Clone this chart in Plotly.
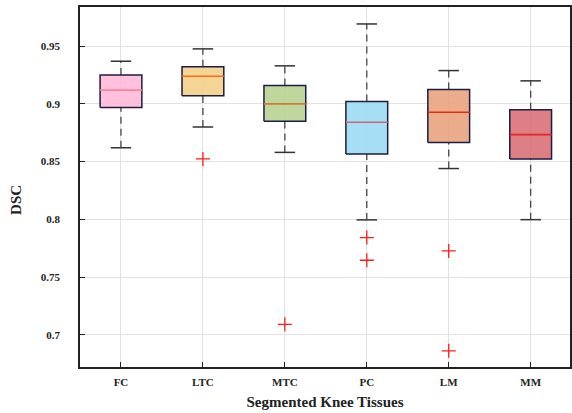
import plotly.graph_objects as go

categories = ["FC", "LTC", "MTC", "PC", "LM", "MM"]
lower_whisker = [0.862, 0.880, 0.858, 0.7995, 0.844, 0.7997]
q1 = [0.897, 0.907, 0.885, 0.8567, 0.8665, 0.8523]
median = [0.912, 0.924, 0.900, 0.8841, 0.8928, 0.8734]
q3 = [0.925, 0.9323, 0.9159, 0.902, 0.9124, 0.895]
upper_whisker = [0.937, 0.9477, 0.933, 0.9693, 0.9289, 0.920]
outlier_cat = ["LTC", "MTC", "PC", "PC", "LM", "LM"]
outlier_val = [0.8523, 0.709, 0.7842, 0.7645, 0.7726, 0.686]

fill_colors = ["rgba(255,182,214,0.85)", "rgba(242,206,128,0.85)", "rgba(178,208,140,0.85)",
               "rgba(150,216,245,0.85)", "rgba(232,160,124,0.88)", "rgba(216,104,112,0.85)"]
median_colors = ["#ff7f9f", "#ff6a1a", "#d07a3a", "#d06878", "#ee2a10", "#e8202a"]
edge = "#1c1c44"

HW = 0.255
CW = 0.125

fig = go.Figure()
for i, c in enumerate(categories):
    # whiskers (dashed)
    for a, b in [(q3[i], upper_whisker[i]), (lower_whisker[i], q1[i])]:
        fig.add_trace(go.Scatter(x=[i, i], y=[a, b], mode="lines",
                                 line=dict(color="rgba(40,40,40,0.85)", width=1.3, dash="7px,5px"),
                                 hoverinfo="skip", showlegend=False))
    # caps
    for v in [upper_whisker[i], lower_whisker[i]]:
        fig.add_trace(go.Scatter(x=[i - CW, i + CW], y=[v, v], mode="lines",
                                 line=dict(color="#333333", width=1.5),
                                 hoverinfo="skip", showlegend=False))
    # box
    fig.add_trace(go.Scatter(x=[i - HW, i + HW, i + HW, i - HW, i - HW],
                             y=[q1[i], q1[i], q3[i], q3[i], q1[i]],
                             mode="lines", fill="toself", fillcolor=fill_colors[i],
                             line=dict(color=edge, width=1.5),
                             hoverinfo="skip", showlegend=False))
    # median
    fig.add_trace(go.Scatter(x=[i - HW, i + HW], y=[median[i], median[i]], mode="lines",
                             line=dict(color=median_colors[i], width=1.6),
                             hoverinfo="skip", showlegend=False))

fig.add_trace(go.Scatter(x=[categories.index(c) for c in outlier_cat], y=outlier_val,
                         mode="markers",
                         marker=dict(symbol="cross-thin", size=10,
                                     line=dict(color="#ff1a1a", width=1.3)),
                         showlegend=False))

font_family = "Liberation Serif, Times New Roman, serif"
fig.update_layout(
    width=572, height=413,
    margin=dict(l=80, r=0, t=7, b=46),
    plot_bgcolor="white", paper_bgcolor="white",
    font=dict(family=font_family, color="#222222"),
    xaxis=dict(range=[-0.5, 5.48], tickvals=list(range(len(categories))), ticktext=categories,
               showgrid=True, gridcolor="#e2e2e2", gridwidth=1, zeroline=False,
               showline=True, linecolor="#222222", linewidth=1.5, mirror=True,
               ticks="inside", ticklen=5, tickcolor="#222222",
               tickfont=dict(size=11, family=font_family, weight="bold"),
               ticklabelstandoff=4,
               title=dict(text="Segmented Knee Tissues", standoff=10,
                          font=dict(size=15, family=font_family, weight="bold"))),
    yaxis=dict(range=[0.672, 0.984], tickvals=[0.7, 0.75, 0.8, 0.85, 0.9, 0.95],
               ticktext=["0.7", "0.75", "0.8", "0.85", "0.9", "0.95"],
               showgrid=True, gridcolor="#e2e2e2", gridwidth=1, zeroline=False,
               showline=True, linecolor="#222222", linewidth=1.5, mirror=True,
               ticks="inside", ticklen=5, tickcolor="#222222",
               tickfont=dict(size=11, family=font_family, weight="bold"),
               ticklabelstandoff=16),
    annotations=[dict(text="DSC", xref="paper", yref="paper", x=-0.132, y=0.465,
                      xanchor="center", yanchor="middle", textangle=-90, showarrow=False,
                      font=dict(size=15, family=font_family, weight="bold", color="#222222"))],
)

fig.write_html("out.html")
